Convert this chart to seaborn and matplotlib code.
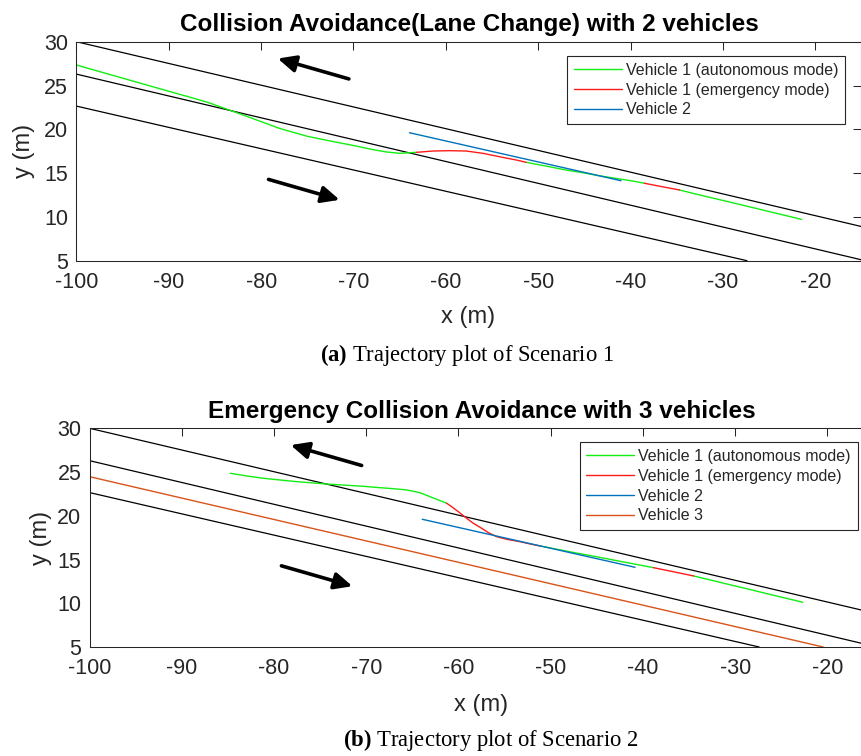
import numpy as np
import pandas as pd
import matplotlib
matplotlib.use("Agg")
import matplotlib.pyplot as plt
from matplotlib.lines import Line2D
from matplotlib.patches import ArrowStyle
import seaborn as sns

# ---------------- data ----------------
# road boundaries (shared by both scenarios)
road1_x = [-100, -15]
road1_y = [30.0, 8.9]
road2_x = [-100, -15]
road2_y = [26.3, 5.1]
road3_x = [-100, -27.4]
road3_y = [22.65, 5.0]

# driving-direction arrows: tail / head points
arrow_up_tail = (-70.5, 25.75)
arrow_up_head = (-78.2, 28.08)
arrow_dn_tail = (-79.2, 14.28)
arrow_dn_head = (-71.5, 11.95)

# Scenario 1 - vehicle 1 (segments alternate autonomous / emergency)
s1_auto1_x = [-100, -92.0, -88.0, -85.7, -82.0, -78.0, -75.0, -72.2, -70.0, -68.0, -66.5, -65.0, -63.2]
s1_auto1_y = [27.34, 24.94, 23.75, 23.05, 21.65, 20.10, 19.20, 18.60, 18.15, 17.70, 17.42, 17.26, 17.37]
s1_emer1_x = [-63.2, -61.4, -59.6, -57.8, -56.0, -54.2, -52.4, -51.3]
s1_emer1_y = [17.37, 17.52, 17.56, 17.52, 17.26, 16.87, 16.50, 16.23]
s1_auto2_x = [-51.3, -48.8, -47.0, -45.2, -43.4, -41.6, -39.8, -38.5]
s1_auto2_y = [16.23, 15.73, 15.35, 15.05, 14.70, 14.40, 14.10, 13.84]
s1_emer2_x = [-38.5, -36.6, -34.7]
s1_emer2_y = [13.84, 13.45, 13.07]
s1_auto3_x = [-34.7, -32.5, -28.1, -21.5]
s1_auto3_y = [13.07, 12.50, 11.40, 9.72]
s1_veh2_x = [-63.94, -41.04]
s1_veh2_y = [19.61, 14.13]

# Scenario 2 - vehicle 1
s2_auto1_x = [-84.75, -82.96, -81.17, -79.35, -77.54, -75.74, -73.93, -72.12,
              -70.32, -68.5, -67.07, -65.6, -64.17, -63.08, -62.0, -61.28]
s2_auto1_y = [24.86, 24.55, 24.29, 24.09, 23.90, 23.75, 23.60, 23.49,
              23.37, 23.21, 23.10, 22.95, 22.64, 22.18, 21.73, 21.43]
s2_emer1_x = [-61.28, -60.74, -60.02, -59.11, -58.39, -57.67, -56.76, -55.86,
              -54.77, -53.33, -52.24, -51.16]
s2_emer1_y = [21.43, 21.04, 20.47, 19.71, 19.14, 18.69, 18.07, 17.61,
              17.31, 17.04, 16.78, 16.55]
s2_auto2_x = [-51.16, -48.0, -45.0, -42.0, -38.86]
s2_auto2_y = [16.55, 15.90, 15.31, 14.70, 14.07]
s2_emer2_x = [-38.86, -36.7, -34.5]
s2_emer2_y = [14.07, 13.60, 13.12]
s2_auto3_x = [-34.5, -28.6, -22.67]
s2_auto3_y = [13.12, 11.62, 10.11]
s2_veh2_x = [-63.93, -40.85]
s2_veh2_y = [19.60, 14.11]
s2_veh3_x = [-100, -20.46]
s2_veh3_y = [24.47, 5.0]

x_ticks = [-100, -90, -80, -70, -60, -50, -40, -30, -20]
y_ticks = [5, 10, 15, 20, 25, 30]

legend_labels = ["Vehicle 1 (autonomous mode)", "Vehicle 1 (emergency mode)",
                 "Vehicle 2", "Vehicle 3"]
titles = ["Collision Avoidance(Lane Change) with 2 vehicles",
          "Emergency Collision Avoidance with 3 vehicles"]
captions = [r"$\mathbf{(a)}$ Trajectory plot of Scenario 1",
            r"$\mathbf{(b)}$ Trajectory plot of Scenario 2"]

# ---------------- style ----------------
sns.set_theme(style="white")
plt.rcParams["font.family"] = ["Liberation Sans", "DejaVu Sans"]
plt.rcParams["mathtext.fontset"] = "custom"
plt.rcParams["mathtext.rm"] = "Liberation Serif"
plt.rcParams["mathtext.bf"] = "Liberation Serif:bold"

GREEN = "#11ee11"
RED = "#ff1a1a"
BLUE = "#0072BD"
ORANGE = "#D95319"
DARK = "#262626"

W, H = 862, 756
fig = plt.figure(figsize=(W / 100, H / 100), dpi=100)
fig.patch.set_facecolor("white")

ax1 = fig.add_axes([76.4 / W, 1 - 260.7 / H, (861.5 - 76.4) / W, 219.0 / H])
ax2 = fig.add_axes([89.6 / W, 1 - 647.0 / H, (873.5 - 89.6) / W, 218.7 / H])


def line(ax, xs, ys, color, lw=1.0):
    df = pd.DataFrame({"x": xs, "y": ys})
    sns.lineplot(data=df, x="x", y="y", ax=ax, sort=False, estimator=None,
                 color=color, lw=lw)


def setup(ax):
    for xs, ys in [(road1_x, road1_y), (road2_x, road2_y), (road3_x, road3_y)]:
        line(ax, xs, ys, "black", lw=0.9)
    ast = ArrowStyle("-|>", head_length=0.9, head_width=0.42)
    for tail, head in [(arrow_up_tail, arrow_up_head), (arrow_dn_tail, arrow_dn_head)]:
        ax.annotate("", xy=head, xytext=tail,
                    arrowprops=dict(arrowstyle=ast, lw=2.6, color="black",
                                    mutation_scale=12, shrinkA=0, shrinkB=0))
    ax.set_xlim(-100, -15)
    ax.set_ylim(5, 30)
    ax.set_xticks(x_ticks)
    ax.set_yticks(y_ticks)
    ax.set_xticklabels([str(v) for v in x_ticks])
    ax.set_yticklabels([str(v) for v in y_ticks])
    ax.tick_params(axis="both", direction="in", length=5.5, width=0.75,
                   colors=DARK, labelsize=15.5, top=True, right=True)
    ax.tick_params(axis="x", pad=8)
    ax.tick_params(axis="y", pad=6)
    for s in ax.spines.values():
        s.set_visible(True)
        s.set_color(DARK)
        s.set_linewidth(0.75)
    ax.set_facecolor("white")


setup(ax1)
for xs, ys in [(s1_auto1_x, s1_auto1_y), (s1_auto2_x, s1_auto2_y), (s1_auto3_x, s1_auto3_y)]:
    line(ax1, xs, ys, GREEN)
for xs, ys in [(s1_emer1_x, s1_emer1_y), (s1_emer2_x, s1_emer2_y)]:
    line(ax1, xs, ys, RED)
line(ax1, s1_veh2_x, s1_veh2_y, BLUE)

setup(ax2)
line(ax2, s2_veh3_x, s2_veh3_y, ORANGE)
for xs, ys in [(s2_auto1_x, s2_auto1_y), (s2_auto2_x, s2_auto2_y), (s2_auto3_x, s2_auto3_y)]:
    line(ax2, xs, ys, GREEN)
for xs, ys in [(s2_emer1_x, s2_emer1_y), (s2_emer2_x, s2_emer2_y)]:
    line(ax2, xs, ys, RED)
line(ax2, s2_veh2_x, s2_veh2_y, BLUE)

colors = [GREEN, RED, BLUE, ORANGE]
for ax, n, title, anchor, ylab_x in [
        (ax1, 3, titles[0], (845.0 / W, 1 - 56.0 / H), -0.0667),
        (ax2, 4, titles[1], (857.6 / W, 1 - 442.3 / H), -0.062)]:
    handles = [Line2D([], [], color=c, lw=1.0) for c in colors[:n]]
    leg = ax.legend(handles, legend_labels[:n], loc="upper right",
                    bbox_to_anchor=anchor, bbox_transform=fig.transFigure,
                    borderaxespad=0, fontsize=11.5, frameon=True, fancybox=False,
                    framealpha=1, edgecolor=DARK, handlelength=3.0,
                    handletextpad=0.25, labelspacing=0.3, borderpad=0.42)
    leg.get_frame().set_linewidth(0.8)
    for t in leg.get_texts():
        t.set_color(DARK)
    ax.set_title(title, fontsize=17.5, fontweight="bold", color="black", pad=7.5)
    ax.set_xlabel("x (m)", fontsize=17, color=DARK)
    ax.set_ylabel("y (m)", fontsize=17, color=DARK)
    ax.xaxis.label.set_va("center")
    ax.yaxis.label.set_va("center")
    ax.yaxis.set_label_coords(ylab_x, 0.5)

ax1.xaxis.set_label_coords(0.4985, -0.258)
ax2.xaxis.set_label_coords(0.4993, -0.265)

fig.text(466.7 / W, 1 - 355.0 / H, captions[0], ha="center", va="center",
         fontsize=16.3, family=["Liberation Serif", "DejaVu Serif"], color="black")
fig.text(490.5 / W, 1 - 740.0 / H, captions[1], ha="center", va="center",
         fontsize=16.3, family=["Liberation Serif", "DejaVu Serif"], color="black")

fig.savefig("out.png", dpi=100, facecolor="white")
